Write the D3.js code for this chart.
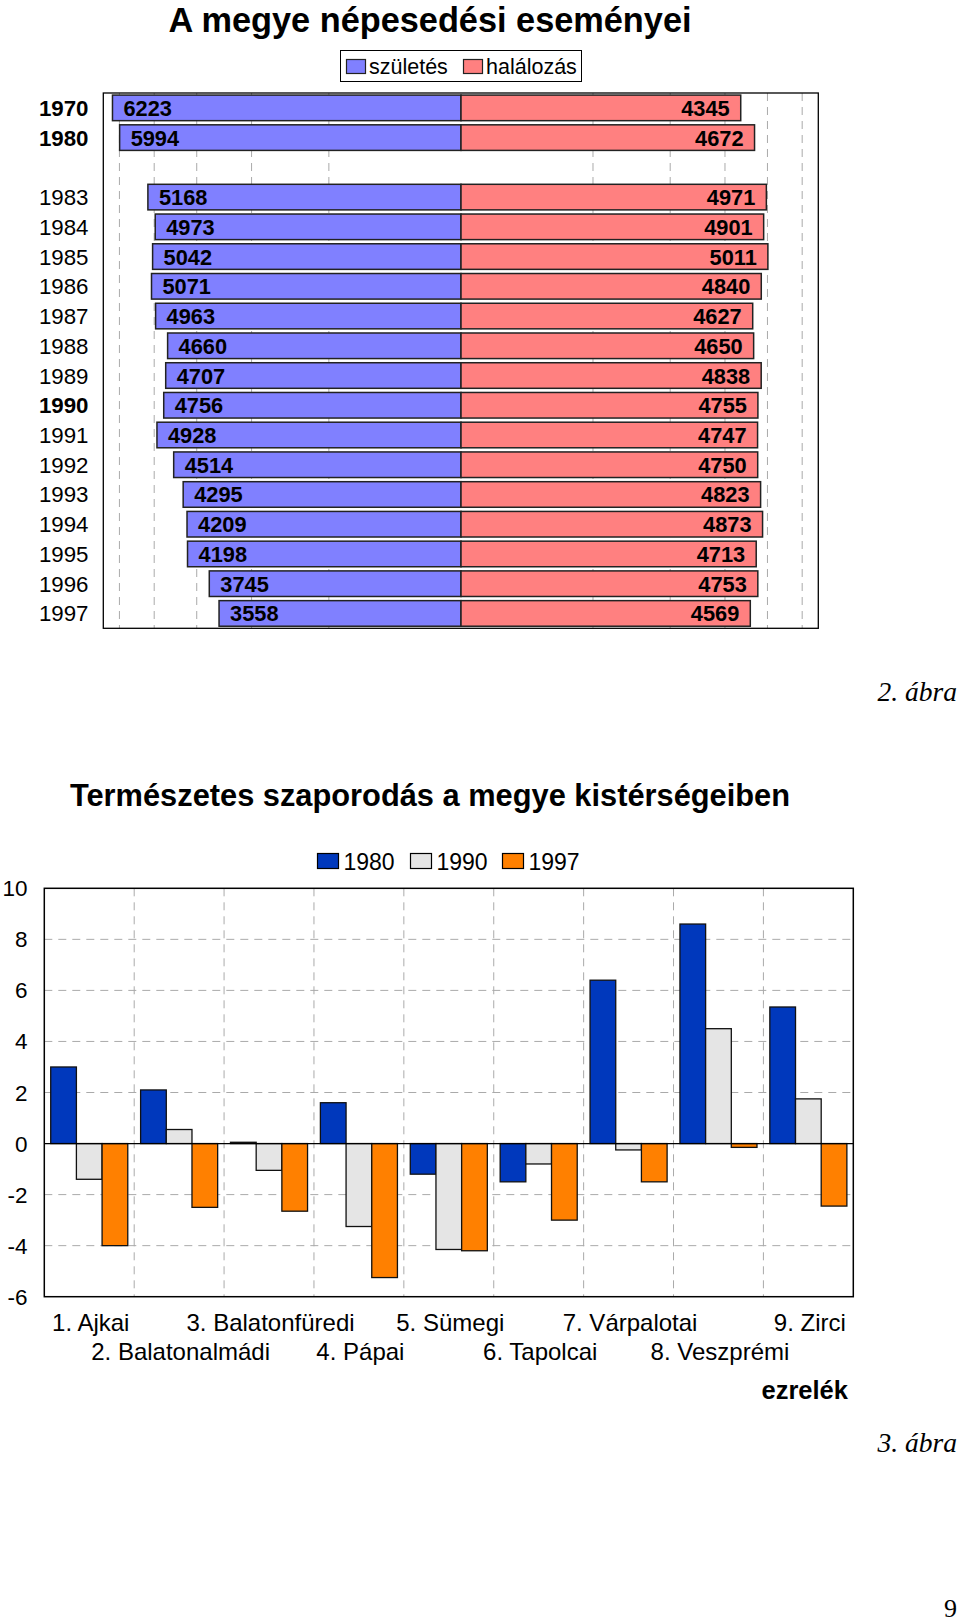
<!DOCTYPE html>
<html><head><meta charset="utf-8">
<script src="https://cdn.jsdelivr.net/npm/d3@7/dist/d3.min.js"></script>
<style>
html,body{margin:0;padding:0;background:#fff;}
svg{display:block;}
text{font-family:"Liberation Sans",Arial,sans-serif;fill:#000;}
</style></head>
<body>
<svg id="c" width="960" height="1622"></svg>
<script>
// ---------- Chart 1 data ----------
const years = ["1970","1980","","1983","1984","1985","1986","1987","1988","1989","1990","1991","1992","1993","1994","1995","1996","1997"];
const boldYears = ["1970","1980","1990"];
const births = [6223,5994,null,5168,4973,5042,5071,4963,4660,4707,4756,4928,4514,4295,4209,4198,3745,3558];
const deaths = [4345,4672,null,4971,4901,5011,4840,4627,4650,4838,4755,4747,4750,4823,4873,4713,4753,4569];
const gridValues1 = [2000,3000,4000,5000,6000];
const legend1 = ["születés","halálozás"];

// ---------- Chart 2 data ----------
const regions = ["1. Ajkai","2. Balatonalmádi","3. Balatonfüredi","4. Pápai","5. Sümegi","6. Tapolcai","7. Várpalotai","8. Veszprémi","9. Zirci"];
const seriesNames = ["1980","1990","1997"];
const v1980 = [3.0, 2.1, 0.05, 1.6, -1.2, -1.5, 6.4, 8.6, 5.35];
const v1990 = [-1.4, 0.55, -1.05, -3.25, -4.15, -0.8, -0.25, 4.5, 1.75];
const v1997 = [-4.0, -2.5, -2.65, -5.25, -4.2, -3.0, -1.5, -0.15, -2.45];
const yTicks2 = [-6,-4,-2,0,2,4,6,8,10];

const svg = d3.select("#c");

// ================= CHART 1 =================
{
  const L = 103.3, R = 818.3, T = 93, B = 628.3, cx = 461;
  const xR = d3.scaleLog().domain([1000, 6530]).range([cx, R]);
  const xL = d3.scaleLog().domain([1000, 6530]).range([cx, L]);
  const y = d3.scaleBand().domain(years).range([T, B]).paddingInner(0.14).paddingOuter(0.07);

  svg.append("text").attr("x", 430).attr("y", 32).attr("text-anchor","middle")
    .attr("font-size", 34.3).attr("font-weight","bold").text("A megye népesedési eseményei");

  // legend
  const lg = svg.append("g");
  lg.append("rect").attr("x",340.5).attr("y",50.5).attr("width",241).attr("height",31)
    .attr("fill","#fff").attr("stroke","#000").attr("stroke-width",1);
  const lcol = ["#8080ff","#ff8080"];
  const lx = [346.5, 463.5];
  legend1.forEach((t,i)=>{
    lg.append("rect").attr("x",lx[i]).attr("y",59.5).attr("width",19).attr("height",14)
      .attr("fill",lcol[i]).attr("stroke","#222").attr("stroke-width",1.2);
    lg.append("text").attr("x",lx[i]+22.5).attr("y",73.5).attr("font-size",21.5).text(t);
  });

  // grid
  const g = svg.append("g");
  gridValues1.forEach(v=>{
    [xL(v), xR(v)].forEach(xx=>{
      g.append("line").attr("x1",xx).attr("x2",xx).attr("y1",T).attr("y2",B)
        .attr("stroke","#aaa").attr("stroke-width",1).attr("stroke-dasharray","8,6");
    });
  });

  const rows = years.map((yr,i)=>({yr, b:births[i], d:deaths[i]})).filter(r=>r.b!=null);
  const bars = svg.append("g");
  rows.forEach(r=>{
    const yy = y(r.yr), h = y.bandwidth();
    bars.append("rect").attr("x", xL(r.b)).attr("y", yy).attr("width", cx - xL(r.b)).attr("height", h)
      .attr("fill","#8080ff").attr("stroke","#222").attr("stroke-width",1.5);
    bars.append("rect").attr("x", cx).attr("y", yy).attr("width", xR(r.d) - cx).attr("height", h)
      .attr("fill","#ff8080").attr("stroke","#222").attr("stroke-width",1.5);
    bars.append("text").attr("x", xL(r.b)+11).attr("y", yy+h/2+8).attr("font-size",21.8)
      .attr("font-weight","bold").text(r.b);
    bars.append("text").attr("x", xR(r.d)-11).attr("y", yy+h/2+8).attr("font-size",21.8)
      .attr("font-weight","bold").attr("text-anchor","end").text(r.d);
  });

  // year labels
  years.forEach(yr=>{
    if(!yr) return;
    svg.append("text").attr("x",88.5).attr("y",y(yr)+y.bandwidth()/2+8).attr("text-anchor","end")
      .attr("font-size",22.3).attr("font-weight", boldYears.includes(yr)?"bold":"normal").text(yr);
  });

  svg.append("rect").attr("x",L).attr("y",T).attr("width",R-L).attr("height",B-T)
    .attr("fill","none").attr("stroke","#000").attr("stroke-width",1.3);

  svg.append("text").attr("x",957).attr("y",701).attr("text-anchor","end")
    .style("font-family","'Liberation Serif','Times New Roman',serif")
    .attr("font-style","italic").attr("font-size",27.5).text("2. ábra");
}

// ================= CHART 2 =================
{
  const L = 44.3, R = 853.3, T = 888.3, B = 1296.7;
  const y = d3.scaleLinear().domain([-6,10]).range([B,T]);
  const x0 = d3.scaleBand().domain(regions).range([L,R]).paddingInner(0).paddingOuter(0);
  const x1 = d3.scaleBand().domain(seriesNames).range([0,x0.bandwidth()]).paddingInner(0).paddingOuter(0.25);
  const colors = {"1980":"#0038BC","1990":"#E5E5E5","1997":"#FF8000"};
  const vals = {"1980":v1980,"1990":v1990,"1997":v1997};

  svg.append("text").attr("x",430).attr("y",806).attr("text-anchor","middle")
    .attr("font-size",30.8).attr("font-weight","bold").text("Természetes szaporodás a megye kistérségeiben");

  // legend
  const lxs = [317.5, 410.5, 502.5];
  seriesNames.forEach((s,i)=>{
    svg.append("rect").attr("x",lxs[i]).attr("y",853.5).attr("width",21).attr("height",15)
      .attr("fill",colors[s]).attr("stroke","#000").attr("stroke-width",1.2);
    svg.append("text").attr("x",lxs[i]+26).attr("y",869.5).attr("font-size",23).text(s);
  });

  // grid
  yTicks2.forEach(t=>{
    if(t===-6||t===10||t===0) return;
    svg.append("line").attr("x1",L).attr("x2",R).attr("y1",y(t)).attr("y2",y(t))
      .attr("stroke","#aaa").attr("stroke-width",1).attr("stroke-dasharray","8,6");
  });
  regions.forEach((r,i)=>{
    if(i===0) return;
    const xx = x0(r);
    svg.append("line").attr("x1",xx).attr("x2",xx).attr("y1",T).attr("y2",B)
      .attr("stroke","#aaa").attr("stroke-width",1).attr("stroke-dasharray","8,6");
  });

  // bars
  regions.forEach((r,i)=>{
    seriesNames.forEach(s=>{
      const v = vals[s][i];
      svg.append("rect").attr("x",x0(r)+x1(s)).attr("width",x1.bandwidth())
        .attr("y", y(Math.max(0,v))).attr("height", Math.abs(y(v)-y(0)))
        .attr("fill",colors[s]).attr("stroke","#111").attr("stroke-width",1.3);
    });
  });

  svg.append("line").attr("x1",L).attr("x2",R).attr("y1",y(0)).attr("y2",y(0))
    .attr("stroke","#000").attr("stroke-width",1.3);
  svg.append("rect").attr("x",L).attr("y",T).attr("width",R-L).attr("height",B-T)
    .attr("fill","none").attr("stroke","#000").attr("stroke-width",1.5);

  // y tick labels
  yTicks2.forEach(t=>{
    svg.append("text").attr("x",27.5).attr("y",y(t)+8).attr("text-anchor","end")
      .attr("font-size",22.5).text(t);
  });

  // category labels, staggered
  regions.forEach((r,i)=>{
    svg.append("text").attr("x",x0(r)+x0.bandwidth()/2+1.5).attr("y", i%2===0 ? 1331 : 1360)
      .attr("text-anchor","middle").attr("font-size",24).text(r);
  });

  svg.append("text").attr("x",848).attr("y",1399).attr("text-anchor","end")
    .attr("font-size",25.5).attr("font-weight","bold").text("ezrelék");

  svg.append("text").attr("x",957).attr("y",1452).attr("text-anchor","end")
    .style("font-family","'Liberation Serif','Times New Roman',serif")
    .attr("font-style","italic").attr("font-size",27.5).text("3. ábra");

  svg.append("text").attr("x",957).attr("y",1617).attr("text-anchor","end")
    .style("font-family","'Liberation Serif','Times New Roman',serif")
    .attr("font-size",26).text("9");
}
</script>
</body></html>
